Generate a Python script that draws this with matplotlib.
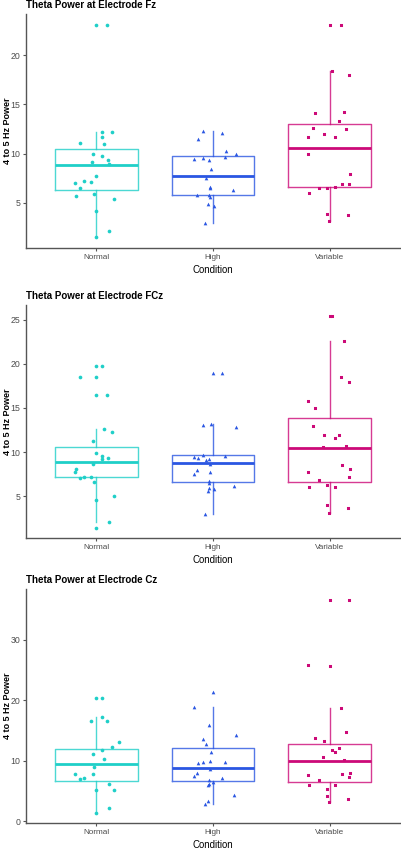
import matplotlib
matplotlib.use("Agg")
import matplotlib.pyplot as plt
from matplotlib.ticker import MultipleLocator
import numpy as np

plt.rcParams['font.family'] = ['Liberation Sans', 'DejaVu Sans']

conditions = ["Normal", "High", "Variable"]
electrodes = ["Fz", "FCz", "Cz"]
colors = ["#1fcfc8", "#2a56e2", "#cc0a78"]
markers = ["o", "^", "s"]

# ---- data points (values) and horizontal jitter ----
fz_normal = [23.03, 23.03, 12.21, 12.21, 11.67, 11.03, 10.97, 9.96, 9.72, 9.38, 9.11, 8.98,
             7.73, 7.26, 7.12, 7.02, 6.52, 5.94, 5.71, 5.40, 4.15, 2.13, 1.49]
fz_normal_jit = [0.0, 0.091, 0.054, 0.140, 0.046, -0.134, 0.066, -0.029, 0.051, 0.100, -0.034, 0.114,
                 0.0, -0.106, -0.046, -0.182, -0.137, -0.017, -0.171, 0.154, 0.0, 0.108, 0.0]
fz_high = [12.28, 12.11, 11.47, 10.29, 9.96, 9.45, 9.58, 9.35, 9.66, 8.44, 7.49, 6.65, 6.52,
           6.28, 5.77, 5.84, 5.61, 4.83, 4.70, 2.94]
fz_high_jit = [-0.083, 0.074, -0.125, 0.111, 0.194, -0.163, -0.083, -0.031, 0.103, -0.017, -0.060,
               -0.029, -0.026, 0.174, -0.140, -0.037, -0.029, -0.040, 0.009, -0.071]
fz_variable = [23.03, 23.10, 18.38, 17.98, 14.10, 14.20, 13.36, 12.62, 12.48, 11.94, 11.67, 11.71,
               9.92, 7.96, 6.88, 6.92, 6.52, 6.48, 6.62, 6.04, 3.85, 3.75, 3.11]
fz_variable_jit = [0.0, 0.094, 0.020, 0.165, -0.125, 0.123, 0.077, -0.143, 0.134, -0.048, 0.043, -0.191,
                   -0.191, 0.168, 0.108, 0.163, -0.091, -0.023, 0.048, -0.182, -0.023, 0.154, -0.011]

fcz_normal = [19.76, 19.76, 18.49, 18.49, 16.44, 16.44, 12.63, 12.25, 11.20, 9.86, 9.56, 9.18, 9.37,
              8.70, 8.10, 7.76, 7.02, 7.16, 7.20, 6.57, 5.00, 4.62, 2.08, 1.44]
fcz_normal_jit = [0, 0.054, -0.134, 0, 0, 0.091, 0.066, 0.140, -0.029, 0, 0.051, 0.046, 0.100,
                  -0.029, -0.171, -0.182, -0.134, -0.106, -0.046, -0.017, 0.154, 0, 0.108, 0]
fcz_high = [18.98, 18.98, 13.07, 13.19, 12.85, 9.44, 9.33, 9.63, 9.26, 9.11, 9.56, 8.70, 7.95, 7.54,
            7.80, 6.75, 6.53, 5.97, 5.86, 5.57, 6.16, 2.94]
fcz_high_jit = [0.003, 0.074, -0.083, -0.014, 0.194, -0.163, -0.125, -0.083, -0.031, -0.060, 0.103,
                -0.026, -0.140, -0.163, -0.026, -0.031, -0.031, -0.037, 0.009, -0.040, 0.177, -0.071]
fcz_variable = [25.41, 25.45, 22.61, 18.53, 17.93, 15.80, 14.98, 12.92, 11.95, 11.91, 11.62, 10.57,
                10.72, 8.59, 8.06, 7.73, 7.20, 6.80, 6.27, 6.00, 6.00, 3.99, 3.72, 3.05]
fcz_variable_jit = [0, 0.017, 0.123, 0.094, 0.165, -0.191, -0.125, -0.143, -0.048, 0.077, 0.043, -0.057,
                    0.134, 0.108, 0.168, -0.191, 0.165, -0.091, -0.023, -0.182, 0.048, -0.023, 0.154, -0.011]

cz_normal = [20.44, 20.44, 17.31, 16.54, 16.65, 13.07, 12.31, 11.76, 11.21, 10.28, 9.02, 7.87, 7.75,
             7.04, 7.09, 6.15, 5.16, 5.11, 2.14, 1.43]
cz_normal_jit = [0, 0.054, 0.051, -0.046, 0.091, 0.194, 0.140, 0.046, -0.029, 0.066, -0.020, -0.182,
                 -0.029, -0.137, -0.106, 0.114, 0, 0.154, 0.108, 0]
cz_high = [21.32, 18.96, 15.99, 14.29, 13.57, 12.86, 11.54, 9.56, 9.78, 10.00, 9.73, 8.69, 8.03, 7.53,
           7.20, 6.76, 6.48, 6.21, 6.05, 4.34, 3.41, 2.92]
cz_high_jit = [0.003, -0.163, -0.031, 0.194, -0.083, -0.060, -0.017, -0.125, -0.083, -0.026, 0.103,
               -0.023, -0.140, -0.163, 0.074, -0.031, 0.003, -0.037, -0.040, 0.177, -0.040, -0.071]
cz_variable = [36.59, 36.65, 25.77, 25.66, 18.74, 14.79, 13.80, 13.30, 11.81, 12.08, 11.49, 10.60,
               10.17, 7.70, 7.75, 8.02, 7.30, 6.87, 6.05, 6.05, 5.33, 4.24, 3.68, 3.13]
cz_variable_jit = [0, 0.165, -0.191, 0, 0.094, 0.134, -0.125, -0.048, 0.020, 0.077, 0.043, -0.057,
                   0.123, -0.191, 0.108, 0.168, 0.165, -0.091, -0.182, 0.048, -0.023, -0.023, 0.154, -0.011]

# ---- box statistics (Normal, High, Variable) ----
fz_q1 = [6.28, 5.84, 6.58]
fz_med = [8.87, 7.73, 10.56]
fz_q3 = [10.46, 9.72, 13.02]
fz_lo = [1.49, 2.94, 3.11]
fz_hi = [12.21, 12.28, 18.38]

fcz_q1 = [7.13, 6.64, 6.57]
fcz_med = [8.85, 8.81, 10.45]
fcz_q3 = [10.53, 9.67, 13.90]
fcz_lo = [2.08, 2.94, 3.05]
fcz_hi = [12.63, 13.19, 22.61]

cz_q1 = [6.65, 6.65, 6.43]
cz_med = [9.51, 8.85, 9.89]
cz_q3 = [11.98, 12.20, 12.75]
cz_lo = [1.43, 2.94, 3.13]
cz_hi = [17.31, 18.91, 18.74]

panels = [
    ("Fz", [fz_normal, fz_high, fz_variable], [fz_normal_jit, fz_high_jit, fz_variable_jit],
     (fz_q1, fz_med, fz_q3, fz_lo, fz_hi), 5),
    ("FCz", [fcz_normal, fcz_high, fcz_variable], [fcz_normal_jit, fcz_high_jit, fcz_variable_jit],
     (fcz_q1, fcz_med, fcz_q3, fcz_lo, fcz_hi), 5),
    ("Cz", [cz_normal, cz_high, cz_variable], [cz_normal_jit, cz_high_jit, cz_variable_jit],
     (cz_q1, cz_med, cz_q3, cz_lo, cz_hi), 10),
]

W, H = 402, 850
fig = plt.figure(figsize=(W / 100, H / 100), dpi=100)
ax_rects_px = [(14, 248), (305, 538.3), (589, 823.3)]
left_px, right_px = 26, 400

axis_col = "#555555"
tick_col = "#4d4d4d"
marker_area = [7.0, 7.0, 4.8]

for (name, vals, jits, stats, step), (top_px, bot_px) in zip(panels, ax_rects_px):
    ax = fig.add_axes([left_px / W, (H - bot_px) / H, (right_px - left_px) / W, (bot_px - top_px) / H])
    q1, med, q3, lo, hi = stats
    bstats = []
    for i in range(3):
        bstats.append(dict(q1=q1[i], med=med[i], q3=q3[i], whislo=lo[i], whishi=hi[i], fliers=[]))
    art = ax.bxp(bstats, positions=[1, 2, 3], widths=0.71, showfliers=False, showcaps=False,
                 manage_ticks=False)
    for i in range(3):
        c = colors[i]
        art['boxes'][i].set(color=c, linewidth=1.0, alpha=0.8)
        art['medians'][i].set(color=c, linewidth=2.0, solid_capstyle='butt')
        for w in art['whiskers'][2 * i:2 * i + 2]:
            w.set(color=c, linewidth=1.0, alpha=0.8)
    for i in range(3):
        x = [i + 1 + j for j in jits[i]]
        sc = ax.scatter(x, vals[i], marker=markers[i], color=colors[i], s=marker_area[i],
                        linewidths=0, zorder=5)
        sc.set_snap(False)

    allv = np.concatenate([np.array(v) for v in vals])
    rng = allv.max() - allv.min()
    ax.set_ylim(allv.min() - 0.05 * rng, allv.max() + 0.05 * rng)
    ax.set_xlim(0.4, 3.6)
    ax.yaxis.set_major_locator(MultipleLocator(step))
    ax.set_xticks([1, 2, 3])
    ax.set_xticklabels(conditions)

    for s in ['top', 'right']:
        ax.spines[s].set_visible(False)
    for s in ['left', 'bottom']:
        ax.spines[s].set_color(axis_col)
        ax.spines[s].set_linewidth(1.0)
    ax.tick_params(axis='both', colors=axis_col, labelcolor=tick_col,
                   length=2.2, width=0.8, pad=1.8)
    ax.tick_params(axis='x', labelsize=5.9)
    ax.tick_params(axis='y', labelsize=6.3)

    ax.set_title(f"Theta Power at Electrode {name}", loc='left', fontsize=7, fontweight='bold',
                 pad=4.5)
    ax.set_xlabel("Condition", fontsize=6.9, labelpad=3)
    ax.set_ylabel("4 to 5 Hz Power", fontsize=6.5, fontweight='bold', va='center')
    ax.yaxis.set_label_coords(-0.050, 0.5)

fig.savefig("out.png", dpi=100)
